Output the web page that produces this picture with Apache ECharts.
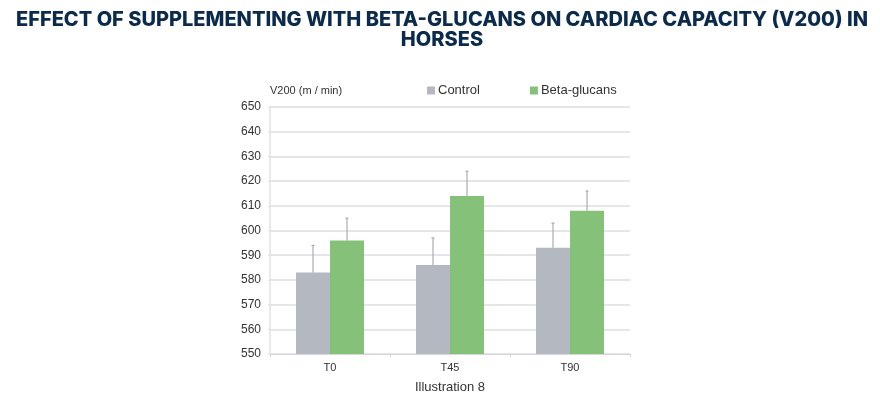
<!DOCTYPE html>
<html>
<head>
<meta charset="utf-8">
<script src="https://cdn.jsdelivr.net/npm/echarts@6/dist/echarts.min.js"></script>
<style>html,body{margin:0;padding:0;background:#fff}#c{width:880px;height:399px}</style>
</head>
<body>
<div id="c"></div>
<script>
var categories = ['T0', 'T45', 'T90'];
var controlValues = [583, 586, 593];
var controlErrTop = [594, 597, 603];
var betaValues = [596, 614, 608];
var betaErrTop = [605, 624, 616];
var yTicks = { min: 550, max: 650, interval: 10 };
var seriesNames = ['Control', 'Beta-glucans'];

var BAR_W = 34;
var chart = echarts.init(document.getElementById('c'));

function errRender(values, tops, offset) {
  return function (params, api) {
    var i = api.value(0);
    var base = api.coord([i, values[i]]);
    var top = api.coord([i, tops[i]]);
    var x = base[0] + offset;
    return {
      type: 'group',
      children: [
        { type: 'line', shape: { x1: x, y1: base[1], x2: x, y2: top[1] },
          style: { stroke: '#9a9ca1', lineWidth: 1 } },
        { type: 'line', shape: { x1: x - 1.5, y1: top[1], x2: x + 1.5, y2: top[1] },
          style: { stroke: '#9a9ca1', lineWidth: 1 } }
      ]
    };
  };
}

chart.setOption({
  animation: false,
  textStyle: { fontFamily: 'Liberation Sans, Arial, sans-serif' },
  title: {
    text: 'EFFECT OF SUPPLEMENTING WITH BETA-GLUCANS ON CARDIAC CAPACITY (V200) IN\nHORSES',
    left: 437, textAlign: 'center', top: 5,
    textStyle: { fontFamily: 'Inter', fontWeight: 800, fontSize: 20, lineHeight: 20, color: '#0c2b4b' }
  },
  legend: {
    data: seriesNames,
    left: 422, top: 79,
    itemWidth: 8, itemHeight: 8, itemGap: 50,
    icon: 'rect',
    textStyle: { fontSize: 13, color: '#333', padding: [0, 0, 0, -2] }
  },
  grid: { left: 270, right: 250, top: 107, bottom: 45, outerBoundsMode: 'none', containLabel: false },
  xAxis: {
    type: 'category', data: categories,
    name: 'Illustration 8', nameLocation: 'middle', nameGap: 27,
    nameTextStyle: { fontSize: 13, color: '#333' },
    axisLine: { lineStyle: { color: '#d4d6da' } },
    axisTick: { show: true, length: 3, lineStyle: { color: '#d4d6da' } },
    axisLabel: { fontSize: 11, color: '#333', margin: 8 }
  },
  yAxis: {
    type: 'value', min: yTicks.min, max: yTicks.max, interval: yTicks.interval,
    name: 'V200 (m / min)', nameLocation: 'end', nameGap: 11,
    nameTextStyle: { fontSize: 11, color: '#333', align: 'left' },
    axisLine: { show: true, lineStyle: { color: '#e0e2e5', width: 1.5 } },
    axisTick: { show: true, length: 2, lineStyle: { color: '#e0e2e5' } },
    axisLabel: { fontSize: 12, color: '#333', margin: 9 },
    splitLine: { lineStyle: { color: '#dcdee2', width: 1.5 } }
  },
  series: [
    { name: seriesNames[0], type: 'bar', data: controlValues, barWidth: BAR_W, barGap: '0%',
      itemStyle: { color: '#b4b8c0' } },
    { name: seriesNames[1], type: 'bar', data: betaValues, barWidth: BAR_W, barGap: '0%',
      itemStyle: { color: '#85c178' } },
    { type: 'custom', data: categories.map(function (c, i) { return [i]; }),
      renderItem: errRender(controlValues, controlErrTop, -BAR_W / 2), z: 5, silent: true },
    { type: 'custom', data: categories.map(function (c, i) { return [i]; }),
      renderItem: errRender(betaValues, betaErrTop, BAR_W / 2), z: 5, silent: true }
  ]
});
</script>
</body>
</html>
